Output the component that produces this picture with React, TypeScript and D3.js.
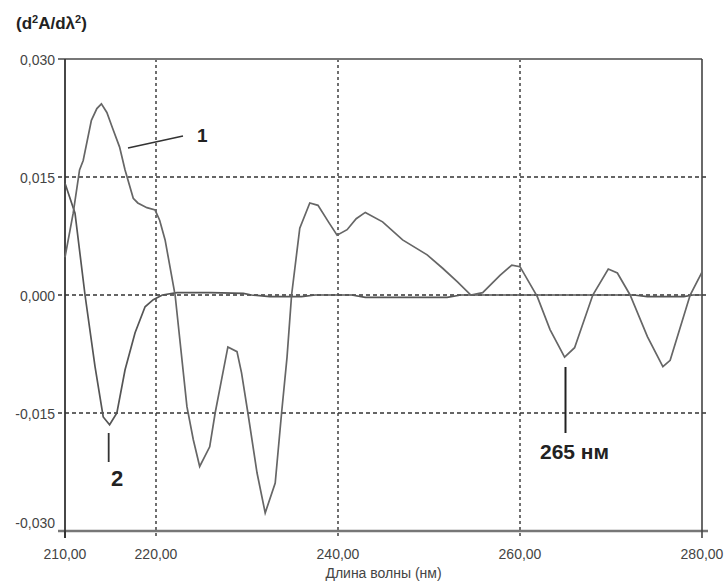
import React from "react";
import * as d3 from "d3";

// Curve 1: wavelength (nm) and second derivative values
const wave1 = [
  210.0, 210.9, 211.6, 212.0, 212.9, 213.5, 214.0, 214.6, 215.2, 216.0, 216.6, 217.5, 218.0,
  219.0, 219.9, 220.4, 221.0, 222.1, 223.4, 224.1, 224.8, 225.9, 226.5, 227.2, 227.9, 228.9,
  229.4, 230.1, 231.1, 232.0, 233.1, 233.8, 234.4, 234.9, 235.8, 236.9, 237.8, 239.0, 239.9,
  241.0, 242.0, 243.0, 244.9, 247.1, 249.8, 251.5, 253.1, 254.6, 255.9, 257.8, 259.1, 260.0,
  261.9, 263.3, 264.9, 266.0, 268.0, 269.7, 270.7, 272.1, 274.0, 275.7, 276.5, 278.7, 280.0,
];
const deriv1 = [
  0.0048, 0.0104, 0.0159, 0.0171, 0.0222, 0.0237, 0.0243, 0.0232, 0.0213, 0.0188, 0.0159, 0.0123, 0.0117,
  0.0111, 0.0108, 0.0095, 0.007, 0.0, -0.0142, -0.0184, -0.0218, -0.0193, -0.015, -0.0108, -0.0066, -0.0072,
  -0.0099, -0.015, -0.0226, -0.0277, -0.0239, -0.015, -0.0079, 0.0, 0.0085, 0.0117, 0.0114, 0.0092, 0.0076,
  0.0083, 0.0097, 0.0105, 0.0093, 0.007, 0.0051, 0.0034, 0.0017, 0.0, 0.0003, 0.0025, 0.0038, 0.0036,
  -0.0002, -0.0044, -0.0079, -0.0067, 0.0, 0.0033, 0.0028, 0.0, -0.0053, -0.0091, -0.0083, 0.0, 0.0029,
];

// Curve 2
const wave2 = [
  210.0, 211.1, 212.2, 213.3, 214.2, 214.9, 215.7, 216.6, 217.7, 218.8, 219.7, 220.7, 222.3,
  226.0, 229.6, 230.5, 232.5, 236.0, 237.5, 241.5, 243.0, 252.0, 253.5, 272.5, 274.0, 278.0,
  279.0, 280.0,
];
const deriv2 = [
  0.0142, 0.0104, 0.0, -0.0091, -0.0155, -0.0165, -0.015, -0.0095, -0.0048, -0.0015, -0.0006, 0.0, 0.0003,
  0.0003, 0.0002, 0.0, -0.0002, -0.0002, 0.0, 0.0, -0.0003, -0.0003, 0.0, 0.0, -0.0002, -0.0002,
  0.0, 0.0,
];

const xTicks = [210, 220, 240, 260, 280];
const xGrid = [220, 240, 260];
const yTicks = [0.03, 0.015, 0, -0.015, -0.03];
const yGrid = [0.015, 0, -0.015];

const W = 726;
const H = 582;
const margin = { top: 59, right: 24, bottom: 51, left: 65 };

const x = d3.scaleLinear().domain([210, 280]).range([margin.left, W - margin.right]);
const y = d3.scaleLinear().domain([-0.03, 0.03]).range([H - margin.bottom, margin.top]);

const fmtY = (v: number) => (v < 0 ? "-" : "") + Math.abs(v).toFixed(3).replace(".", ",");
const fmtX = (v: number) => v.toFixed(2).replace(".", ",");

const line = d3
  .line<[number, number]>()
  .x((d) => x(d[0]))
  .y((d) => y(d[1]));

export default function App() {
  const path1 = line(wave1.map((w, i) => [w, deriv1[i]] as [number, number])) || "";
  const path2 = line(wave2.map((w, i) => [w, deriv2[i]] as [number, number])) || "";
  const x0 = x(210);
  const x1 = x(280);
  const yTop = y(0.03);
  const yBot = y(-0.03);
  const font = "'Liberation Sans', Arial, sans-serif";

  return (
    <div style={{ position: "absolute", left: 0, top: 0 }}>
      <svg width={W} height={H} style={{ display: "block", background: "#fff" }}>
        {/* grid */}
        {xGrid.map((v) => (
          <line key={"gx" + v} x1={x(v)} x2={x(v)} y1={yTop} y2={yBot + 7}
            stroke="#333" strokeWidth={1.4} strokeDasharray="3 3" />
        ))}
        {yGrid.map((v) => (
          <line key={"gy" + v} x1={x0 - 7} x2={x1 + 6} y1={y(v)} y2={y(v)}
            stroke="#333" strokeWidth={1.4} strokeDasharray="4 3" />
        ))}

        {/* frame */}
        <line x1={x0 - 7} x2={x1} y1={yTop} y2={yTop} stroke="#777" strokeWidth={2.2} />
        <line x1={x0 - 7} x2={x1 + 6} y1={yBot} y2={yBot} stroke="#777" strokeWidth={2.6} />
        <line x1={x0} x2={x0} y1={yTop} y2={yBot + 7} stroke="#333" strokeWidth={1.8} />
        <line x1={x1} x2={x1} y1={yTop} y2={yBot + 7} stroke="#444" strokeWidth={1.6} />
        <line x1={x0} x2={x0} y1={yBot} y2={yBot + 7} stroke="#333" strokeWidth={1.8} />

        {/* curves */}
        <path d={path2} fill="none" stroke="#555" strokeWidth={1.7} />
        <path d={path1} fill="none" stroke="#666" strokeWidth={1.7} />

        {/* y tick labels */}
        {yTicks.map((v) => (
          <text key={"ty" + v} x={55} y={y(v) + (v === -0.03 ? -8 : 1)} textAnchor="end"
            dominantBaseline="central" fontFamily={font} fontSize={14} fill="#444">
            {fmtY(v)}
          </text>
        ))}

        {/* x tick labels */}
        {xTicks.map((v) => (
          <text key={"tx" + v} x={x(v)} y={559} textAnchor="middle"
            fontFamily={font} fontSize={14} fill="#444">
            {fmtX(v)}
          </text>
        ))}

        <text x={(x0 + x1) / 2} y={578} textAnchor="middle" fontFamily={font} fontSize={14} fill="#444">
          Длина волны (нм)
        </text>

        <text x={16} y={29} fontFamily={font} fontSize={17} fontWeight="bold" fill="#222">
          (d<tspan fontSize={11} dy={-6}>2</tspan>
          <tspan dy={6}>A/dλ</tspan>
          <tspan fontSize={11} dy={-6}>2</tspan>
          <tspan dy={6}>)</tspan>
        </text>

        {/* annotations */}
        <line x1={128} y1={148} x2={183} y2={136} stroke="#333" strokeWidth={1.5} />
        <text x={197} y={142} fontFamily={font} fontSize={19} fontWeight="bold" fill="#222">1</text>

        <line x1={x(214.8)} x2={x(214.8)} y1={433} y2={462} stroke="#333" strokeWidth={1.8} />
        <text x={111} y={486} fontFamily={font} fontSize={22} fontWeight="bold" fill="#222">2</text>

        <line x1={x(265)} x2={x(265)} y1={367} y2={433} stroke="#222" strokeWidth={2} />
        <text x={540} y={459} fontFamily={font} fontSize={21} fontWeight="bold" fill="#222">265 нм</text>
      </svg>
    </div>
  );
}
